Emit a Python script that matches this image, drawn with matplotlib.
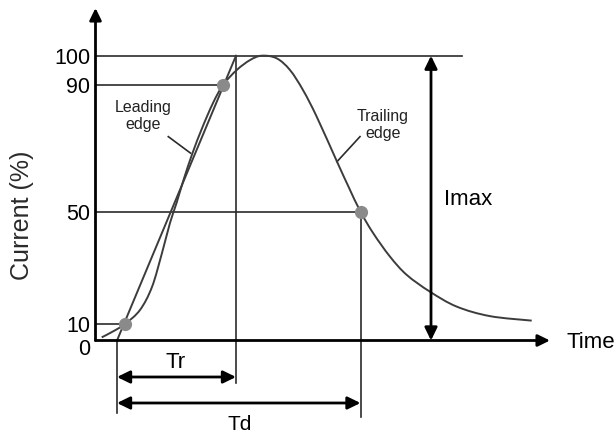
import numpy as np
import matplotlib
matplotlib.use("Agg")
import matplotlib.pyplot as plt
from matplotlib.path import Path
from matplotlib.patches import PathPatch

plt.rcParams['font.family'] = ['Liberation Sans', 'DejaVu Sans']

# ---------------- data ----------------
# pulse curve: time (arbitrary units), current (%)
curve_t = [0.62, 1.75, 2.95, 4.45, 5.65, 6.65, 7.45, 8.10, 8.80, 9.70, 10.70, 11.75, 12.75,
           14.12, 15.45, 16.62, 18.12, 19.45, 20.75, 22.12, 24.15, 25.30, 26.50,
           27.78, 29.45, 31.12, 33.45, 36.12, 39.45, 43.62]
curve_i = [1.9, 5.5, 10.0, 15.0, 23.2, 35.3, 46.0, 52.7, 60.0, 68.5, 76.7, 84.3, 90.0,
           95.1, 98.5, 100.0, 99.1, 95.1, 88.4, 80.0, 65.8, 57.9, 50.0,
           42.3, 34.0, 27.5, 21.5, 16.2, 12.8, 11.2]

# marked points: 10 % and 90 % on the leading edge, 50 % on the trailing edge
mark_t = [2.95, 12.75, 26.50]
mark_i = [10, 90, 50]

# straight leading-edge line through 10 % / 90 % (from 0 % to 100 %)
lead_t = [2.15, 14.05]
lead_i = [0, 100]

t_rise_start = 2.15
t_rise_end = 14.05
t_delay_end = 26.50
t_imax = 33.55
t_axis_end = 45.45

ytick_values = [0, 10, 50, 90, 100]
ytick_labels = ["0", "10", "50", "90", "100"]

# ---------------- scale (schematic, not to scale) ----------------
_lv = [-1000, 0, 10, 50, 90, 100, 1000]
_hv = [-1650, 0, 16.5, 128.8, 255.5, 284.8, 2921.8]

def fwd(v):
    return np.interp(v, _lv, _hv)

def inv(h):
    return np.interp(h, _hv, _lv)

fig = plt.figure(figsize=(6.16, 4.34), dpi=100)
ax = fig.add_axes([0, 0, 1, 1])
ax.set_yscale('function', functions=(fwd, inv))
ax.set_xlim(-9.55, 52.05)
ax.set_ylim(float(inv(-93.5)), float(inv(340.5)))
ax.axis('off')

line_c = '#2b2b2b'
curve_c = '#3c3c3c'
lw_thin = 1.2

# reference horizontal lines
ax.plot([0, 36.65], [100, 100], color=line_c, lw=lw_thin)
ax.plot([0, mark_t[1]], [90, 90], color=line_c, lw=lw_thin)
ax.plot([0, mark_t[2]], [50, 50], color=line_c, lw=lw_thin)
ax.plot([0, mark_t[0]], [10, 10], color=line_c, lw=lw_thin)

# vertical lines
ax.plot([t_rise_start, t_rise_start], [0, inv(-72.5)], color=line_c, lw=lw_thin)
ax.plot([t_rise_end, t_rise_end], [100, inv(-42.5)], color=line_c, lw=lw_thin)
ax.plot([t_delay_end, t_delay_end], [50, inv(-76.5)], color=line_c, lw=lw_thin)

# smooth curve through the read points (Catmull-Rom drawn as cubic Bezier path)
xs = np.asarray(curve_t, float) * 10.0   # comparable units for smoothing
hs = fwd(np.asarray(curve_i, float))
P = np.column_stack([xs, hs])
n = len(P)
verts = [P[0]]
codes = [Path.MOVETO]
for i in range(n - 1):
    p0 = P[i - 1] if i > 0 else P[i]
    p1 = P[i]
    p2 = P[i + 1]
    p3 = P[i + 2] if i + 2 < n else P[i + 1]
    c1 = p1 + (p2 - p0) / 6.0
    c2 = p2 - (p3 - p1) / 6.0
    verts += [c1, c2, p2]
    codes += [Path.CURVE4] * 3
verts = np.array(verts)
verts_data = np.column_stack([verts[:, 0] / 10.0, inv(verts[:, 1])])
ax.add_patch(PathPatch(Path(verts_data, codes), facecolor='none',
                       edgecolor=curve_c, lw=1.4, zorder=3))

ax.plot(lead_t, lead_i, color=curve_c, lw=1.4, zorder=3)
ax.plot(mark_t, mark_i, 'o', color='#8a8a8a', ms=9.5, mec='none', zorder=4)

# axes arrows
arrow1 = dict(arrowstyle='-|>,head_length=0.45,head_width=0.22',
              color='black', lw=2, shrinkA=0, shrinkB=0, mutation_scale=16)
ax.annotate('', xy=(0, inv(332.5)), xytext=(0, 0), arrowprops=arrow1)
ax.annotate('', xy=(t_axis_end, 0), xytext=(0, 0), arrowprops=arrow1)

arrow2 = dict(arrowstyle='<|-|>,head_length=0.45,head_width=0.22',
              color='black', lw=2, shrinkA=0, shrinkB=0, mutation_scale=17)
# Imax double arrow
ax.annotate('', xy=(t_imax, 100), xytext=(t_imax, 0), arrowprops=arrow2)
# Tr and Td arrows
for t_end, hy in [(t_rise_end, -36.5), (t_delay_end, -62.5)]:
    ax.annotate('', xy=(t_end, inv(hy)), xytext=(t_rise_start, inv(hy)),
                arrowprops=arrow2)

# tick labels
tick_h = {0: -6.2, 10: 16.5, 50: 128.8, 90: 255.5, 100: 284.8}
for v, lab in zip(ytick_values, ytick_labels):
    ax.text(-0.55, inv(tick_h[v]), lab, ha='right', va='center_baseline',
            fontsize=15.5, color='black')

# texts
ax.text(-7.35, 48.8, 'Current (%)', rotation=90, ha='center', va='center',
        fontsize=18, color='#2a2a2a')
ax.text(47.1, 0, 'Time', ha='left', va='center_baseline', fontsize=16, color='black')
ax.text(34.85, 54.7, 'Imax', ha='left', va='center_baseline', fontsize=16, color='black')
ax.text(8.05, inv(-19.5), 'Tr', ha='center', va='center_baseline', fontsize=16, color='black')
ax.text(14.45, inv(-89.5), 'Td', ha='center', va='baseline', fontsize=15, color='black')

ax.text(4.78, 80.1, 'Leading\nedge', ha='center', va='center', fontsize=11.5,
        linespacing=1.15, color='#222222')
ax.plot([7.28, 9.50], [73.7, 68.5], color=line_c, lw=1.2)
ax.text(28.75, 77.3, 'Trailing\nedge', ha='center', va='center', fontsize=11.5,
        linespacing=1.15, color='#222222')
ax.plot([26.45, 24.15], [73.7, 65.8], color=line_c, lw=1.2)

fig.savefig('out.png', dpi=100)
